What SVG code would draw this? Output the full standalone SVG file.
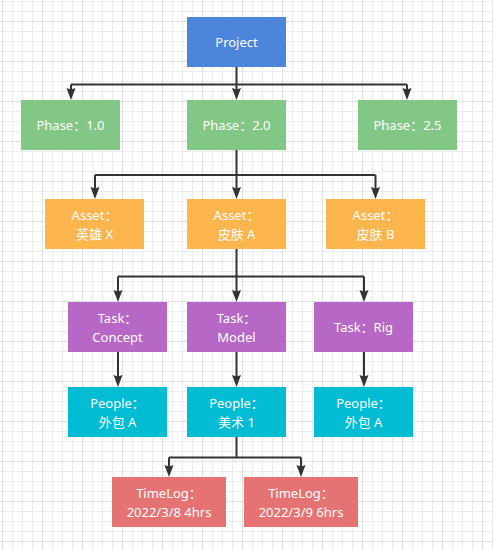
<svg xmlns="http://www.w3.org/2000/svg" width="493" height="550" viewBox="0 0 493 550">
<defs>
<pattern id="minor" x="2" y="1" width="10" height="10" patternUnits="userSpaceOnUse">
<path d="M0.5,0 V10 M0,0.5 H10" fill="none" stroke="#ececec" stroke-width="1"/>
</pattern>
<pattern id="major" x="2" y="21" width="40" height="40" patternUnits="userSpaceOnUse">
<path d="M0.5,0 V40 M0,0.5 H40" fill="none" stroke="#e0e0e0" stroke-width="1"/>
</pattern>
<style>
.n rect{stroke:none}
.t{font-family:"Noto Sans","Noto Sans CJK SC",sans-serif;font-size:13px;fill:#ffffff;text-anchor:middle}
.c{fill:none;stroke:#333333;stroke-width:2}
.a{fill:#333333;stroke:none}
.proj{fill:#4d85da}.phase{fill:#82c785}.asset{fill:#fdb54e}.task{fill:#b767c6}.people{fill:#02bcd4}.log{fill:#e57373}
</style>
</defs>
<rect width="493" height="550" fill="#ffffff"/>
<rect width="493" height="550" fill="url(#minor)"/>
<rect width="493" height="550" fill="url(#major)"/>

<g id="connectors">
<path class="c" d="M236.5,67 V84.5 M71,84.5 H407 M71,84.5 V90 M236.5,84.5 V90 M407,84.5 V90"/>
<path class="a" d="M71,100 L66.5,88 L71,89.5 L75.5,88 Z M236.5,100 L232,88 L236.5,89.5 L241,88 Z M407,100 L402.5,88 L407,89.5 L411.5,88 Z"/>
<path class="c" d="M236.5,150 V175 M95,175 H375.5 M95,175 V189 M236.5,175 V189 M375.5,175 V189"/>
<path class="a" d="M95,199 L90.5,187 L95,188.5 L99.5,187 Z M236.5,199 L232,187 L236.5,188.5 L241,187 Z M375.5,199 L371,187 L375.5,188.5 L380,187 Z"/>
<path class="c" d="M236.5,249 V276.5 M118,276.5 H364 M118,276.5 V292 M236.5,276.5 V292 M364,276.5 V292"/>
<path class="a" d="M118,302 L113.5,290 L118,291.5 L122.5,290 Z M236.5,302 L232,290 L236.5,291.5 L241,290 Z M364,302 L359.5,290 L364,291.5 L368.5,290 Z"/>
<path class="c" d="M118,352 V377 M236.5,352 V377 M364,352 V377"/>
<path class="a" d="M118,387 L113.5,375 L118,376.5 L122.5,375 Z M236.5,387 L232,375 L236.5,376.5 L241,375 Z M364,387 L359.5,375 L364,376.5 L368.5,375 Z"/>
<path class="c" d="M236.5,437 V457.5 M169,457.5 H301 M169,457.5 V467 M301,457.5 V467"/>
<path class="a" d="M169,477 L164.5,465 L169,466.5 L173.5,465 Z M301,477 L296.5,465 L301,466.5 L305.5,465 Z"/>
</g>

<g id="project" class="n"><rect class="proj" x="187" y="17" width="99" height="50"/><text class="t" x="236.5" y="46.5">Project</text></g>

<g id="phase10" class="n"><rect class="phase" x="21" y="100" width="99" height="50"/><text class="t" x="70.5" y="129.5">Phase：1.0</text></g>
<g id="phase20" class="n"><rect class="phase" x="187" y="100" width="99" height="50"/><text class="t" x="236.5" y="129.5">Phase：2.0</text></g>
<g id="phase25" class="n"><rect class="phase" x="358" y="100" width="99" height="50"/><text class="t" x="407.5" y="129.5">Phase：2.5</text></g>

<g id="assetX" class="n"><rect class="asset" x="45" y="199" width="99" height="50"/><text class="t" x="94.5" y="219.5">Asset：</text><text class="t" x="94.5" y="238.5">英雄 X</text></g>
<g id="assetA" class="n"><rect class="asset" x="187" y="199" width="99" height="50"/><text class="t" x="236.5" y="219.5">Asset：</text><text class="t" x="236.5" y="238.5">皮肤 A</text></g>
<g id="assetB" class="n"><rect class="asset" x="326" y="199" width="99" height="50"/><text class="t" x="375.5" y="219.5">Asset：</text><text class="t" x="375.5" y="238.5">皮肤 B</text></g>

<g id="taskConcept" class="n"><rect class="task" x="68" y="302" width="99" height="50"/><text class="t" x="117.5" y="322.5">Task：</text><text class="t" x="117.5" y="341.5">Concept</text></g>
<g id="taskModel" class="n"><rect class="task" x="187" y="302" width="99" height="50"/><text class="t" x="236.5" y="322.5">Task：</text><text class="t" x="236.5" y="341.5">Model</text></g>
<g id="taskRig" class="n"><rect class="task" x="314" y="302" width="99" height="50"/><text class="t" x="363.5" y="331.5">Task：Rig</text></g>

<g id="people1" class="n"><rect class="people" x="68" y="387" width="99" height="50"/><text class="t" x="117.5" y="407.5">People：</text><text class="t" x="117.5" y="426.5">外包 A</text></g>
<g id="people2" class="n"><rect class="people" x="187" y="387" width="99" height="50"/><text class="t" x="236.5" y="407.5">People：</text><text class="t" x="236.5" y="426.5">美术 1</text></g>
<g id="people3" class="n"><rect class="people" x="314" y="387" width="99" height="50"/><text class="t" x="363.5" y="407.5">People：</text><text class="t" x="363.5" y="426.5">外包 A</text></g>

<g id="timelog1" class="n"><rect class="log" x="112" y="477" width="114" height="50"/><text class="t" x="169" y="497.5">TimeLog：</text><text class="t" x="169" y="516.5">2022/3/8 4hrs</text></g>
<g id="timelog2" class="n"><rect class="log" x="244" y="477" width="114" height="50"/><text class="t" x="301" y="497.5">TimeLog：</text><text class="t" x="301" y="516.5">2022/3/9 6hrs</text></g>
</svg>
